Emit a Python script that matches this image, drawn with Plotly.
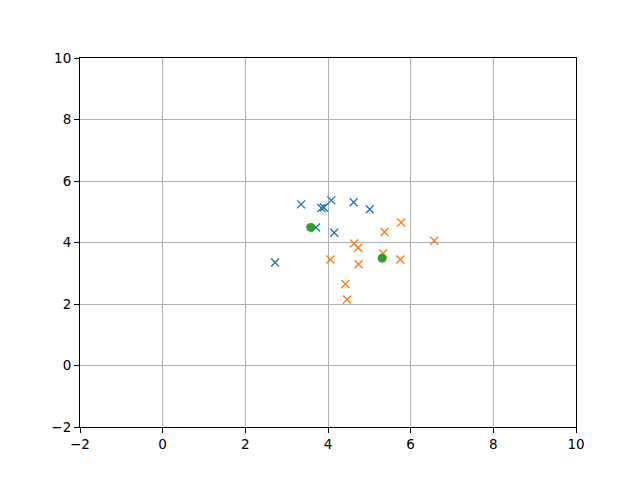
import plotly.graph_objects as go

blue_x = [3.35, 3.84, 3.90, 4.08, 4.62, 5.01, 3.71, 4.15, 2.72]
blue_y = [5.24, 5.12, 5.14, 5.37, 5.31, 5.08, 4.49, 4.32, 3.35]
orange_x = [5.77, 5.37, 6.57, 4.63, 4.73, 4.06, 5.33, 5.75, 4.74, 4.42, 4.46]
orange_y = [4.65, 4.34, 4.06, 3.97, 3.83, 3.45, 3.64, 3.45, 3.29, 2.65, 2.15]
center_x = [3.58, 5.31]
center_y = [4.49, 3.49]
ticks = [-2, 0, 2, 4, 6, 8, 10]
tick_labels = [str(t).replace("-", "\u2212") for t in ticks]

fig = go.Figure()
fig.add_trace(go.Scatter(x=blue_x, y=blue_y, mode="markers",
                         marker=dict(symbol="x-thin", size=8, color="#1f77b4",
                                     line=dict(width=1.4, color="#1f77b4"))))
fig.add_trace(go.Scatter(x=orange_x, y=orange_y, mode="markers",
                         marker=dict(symbol="x-thin", size=8, color="#ff7f0e",
                                     line=dict(width=1.4, color="#ff7f0e"))))
fig.add_trace(go.Scatter(x=center_x, y=center_y, mode="markers",
                         marker=dict(symbol="circle", size=9, color="#2ca02c",
                                     line=dict(width=0))))

axis = dict(range=[-2, 10], tickvals=ticks, ticktext=tick_labels,
            showgrid=True, gridcolor="#b0b0b0", gridwidth=1.1, zeroline=False,
            showline=True, linecolor="black", linewidth=1.1, mirror=True,
            ticks="outside", ticklen=5, tickwidth=1.1, tickcolor="black",
            tickfont=dict(family="DejaVu Sans", size=13.5, color="black"))

fig.update_layout(width=640, height=480, showlegend=False,
                  margin=dict(l=72, r=72, t=50, b=61),
                  plot_bgcolor="white", paper_bgcolor="white",
                  xaxis=axis, yaxis=axis)
fig.write_html("out.html")
